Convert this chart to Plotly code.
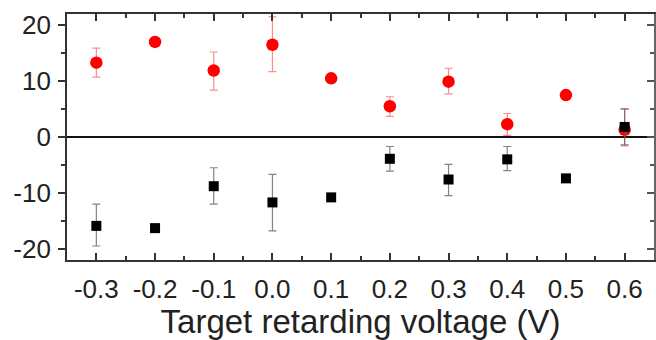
import plotly.graph_objects as go

voltage = [-0.3, -0.2, -0.1, 0.0, 0.1, 0.2, 0.3, 0.4, 0.5, 0.6]

red_vals = [13.3, 17.0, 11.9, 16.5, 10.5, 5.5, 9.9, 2.3, 7.5, 1.3]
red_err_plus = [2.6, 0.5, 3.3, 5.0, 0.3, 1.7, 2.4, 1.9, 0.3, 3.8]
red_err_minus = [2.6, 0.5, 3.5, 4.8, 0.3, 1.8, 2.2, 2.0, 0.3, 2.9]

black_vals = [-15.9, -16.3, -8.8, -11.7, -10.8, -3.9, -7.6, -4.0, -7.4, 1.8]
black_err_plus = [3.9, 0.4, 3.3, 5.0, 0.3, 2.2, 2.7, 2.3, 0.3, 3.2]
black_err_minus = [3.6, 0.4, 3.2, 5.1, 0.3, 2.2, 2.9, 2.0, 0.3, 3.2]

x_ticks = [-0.3, -0.2, -0.1, 0.0, 0.1, 0.2, 0.3, 0.4, 0.5, 0.6]
x_labels = ["-0.3", "-0.2", "-0.1", "0.0", "0.1", "0.2", "0.3", "0.4", "0.5", "0.6"]
y_ticks = [-20, -10, 0, 10, 20]
y_labels = ["-20", "-10", "0", "10", "20"]

fig = go.Figure()

fig.add_trace(go.Scatter(
    x=voltage, y=red_vals, mode="markers",
    marker=dict(symbol="circle", size=12.5, color="#ff0000"),
    error_y=dict(type="data", symmetric=False, array=red_err_plus,
                 arrayminus=red_err_minus, color="rgba(255,60,60,0.6)",
                 thickness=1.2, width=4),
    showlegend=False,
))
fig.add_trace(go.Scatter(
    x=voltage, y=black_vals, mode="markers",
    marker=dict(symbol="square", size=10, color="#000000"),
    error_y=dict(type="data", symmetric=False, array=black_err_plus,
                 arrayminus=black_err_minus, color="rgba(90,90,90,0.75)",
                 thickness=1.2, width=4),
    showlegend=False,
))
# invisible trace to activate right-side axis
fig.add_trace(go.Scatter(x=[None], y=[None], yaxis="y2", showlegend=False, hoverinfo="skip"))

font_family = "Liberation Sans, Arial, sans-serif"

fig.update_layout(
    width=656, height=340,
    margin=dict(l=67, r=2, t=14, b=80),
    paper_bgcolor="white", plot_bgcolor="white",
    font=dict(family=font_family, color="#222222"),
    xaxis=dict(
        range=[-0.35, 0.65],
        tickmode="array", tickvals=x_ticks, ticktext=x_labels,
        ticks="inside", ticklen=7, tickwidth=1.5, tickcolor="#333333",
        minor=dict(ticks="inside", ticklen=4, dtick=0.05, tick0=-0.35, tickcolor="#333333", tickwidth=1.5),
        showline=True, linecolor="#333333", linewidth=1.8, mirror="ticks",
        showgrid=False, zeroline=False,
        tickfont=dict(size=26, color="#222222"),
        ticklabelstandoff=5,
        title=dict(text="Target retarding voltage (V)", font=dict(size=33, color="#222222"), standoff=4),
    ),
    yaxis=dict(
        range=[-22, 22],
        tickmode="array", tickvals=y_ticks, ticktext=y_labels,
        ticks="outside", ticklen=7, tickwidth=1.5, tickcolor="#333333",
        minor=dict(ticks="outside", ticklen=4, dtick=5, tick0=0, tickcolor="#333333", tickwidth=1.5),
        showline=True, linecolor="#333333", linewidth=1.8, mirror=False,
        showgrid=False,
        zeroline=True, zerolinecolor="#111111", zerolinewidth=1.5,
        tickfont=dict(size=26, color="#222222"),
        ticklabelstandoff=2,
    ),
    yaxis2=dict(
        range=[-22, 22], overlaying="y", side="right",
        tickmode="array", tickvals=y_ticks,
        ticks="inside", ticklen=7, tickwidth=1.5, tickcolor="#555555",
        minor=dict(ticks="inside", ticklen=4, dtick=5, tick0=0, tickcolor="#555555", tickwidth=1.5),
        showline=True, linecolor="#666666", linewidth=1.8,
        showticklabels=False, showgrid=False, zeroline=False,
    ),
)

fig.write_html("out.html")
